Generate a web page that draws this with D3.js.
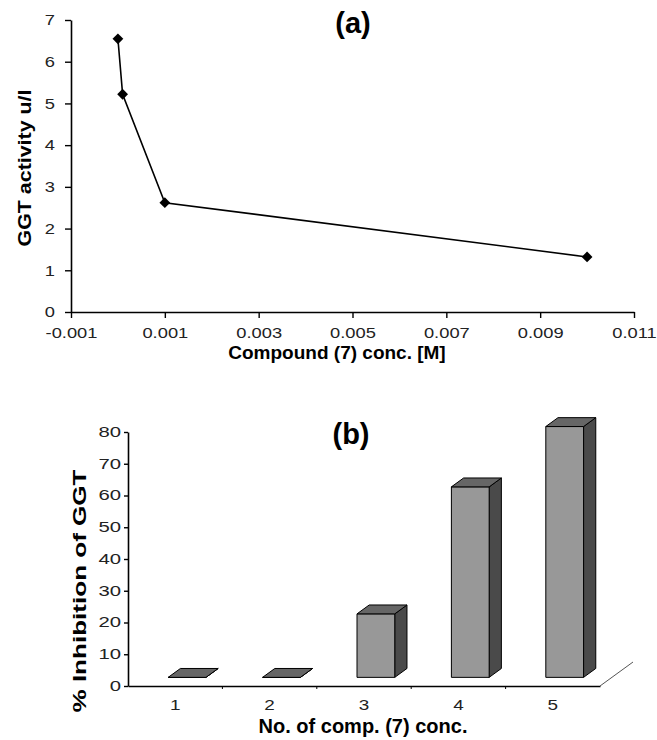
<!DOCTYPE html>
<html>
<head>
<meta charset="utf-8">
<script src="https://cdn.jsdelivr.net/npm/d3@7"></script>
<style>
body { margin:0; background:#fff; }
svg { display:block; font-family:"Liberation Sans", Arial, sans-serif; }
.tick text { fill:#222; }
</style>
</head>
<body>
<svg width="657" height="740"></svg>
<script>
// (a) GGT activity vs compound (7) concentration
var concM = [0, 0.0001, 0.001, 0.01]
var ggtActivity = [6.55, 5.22, 2.62, 1.32]
var xTicksA = [-0.001, 0.001, 0.003, 0.005, 0.007, 0.009, 0.011]
var yTicksA = [0, 1, 2, 3, 4, 5, 6, 7]

// (b) % inhibition per concentration level
var concLevels = ["1", "2", "3", "4", "5"]
var inhibition = [0, 0, 20, 60, 79]
var yTicksB = [0, 10, 20, 30, 40, 50, 60, 70, 80]

var svg = d3.select("svg")

// stretch text horizontally like the scanned figure
var stretch = function(sel, k)
{
    sel.each(function()
    {
        var w = this.getComputedTextLength()
        d3.select(this).attr("textLength", w * k).attr("lengthAdjust", "spacingAndGlyphs")
    })
}

var styleAxis = function(g)
{
    g.select(".domain").attr("stroke", "#000").attr("stroke-width", 1.6)
    g.selectAll(".tick line").attr("stroke", "#000").attr("stroke-width", 1.4)
}

// plain hyphen minus like the original
var fmtA = function(d) { return d3.format(".3f")(d).replace("\u2212", "-") }

// ---------- chart (a) ----------
var xA = d3.scaleLinear().domain([-0.001, 0.011]).range([71, 634])
var yA = d3.scaleLinear().domain([0, 7]).range([312, 20])

var gxA = svg.append("g")
    .attr("transform", "translate(0," + yA(0) + ")")
    .call(d3.axisBottom(xA).tickValues(xTicksA).tickSize(6).tickPadding(9).tickSizeOuter(0)
        .tickFormat(fmtA))
gxA.selectAll("text").attr("font-size", 15).call(stretch, 1.22)
styleAxis(gxA)

var gyA = svg.append("g")
    .attr("transform", "translate(" + xA(-0.001) + ",0)")
    .call(d3.axisLeft(yA).tickValues(yTicksA).tickSize(6).tickPadding(10).tickSizeOuter(0)
        .tickFormat(d3.format("d")))
gyA.selectAll("text").attr("font-size", 15).call(stretch, 1.22)
styleAxis(gyA)

var lineA = d3.line()
    .x(function(d, i) { return xA(concM[i]) })
    .y(function(d) { return yA(d) })

svg.append("path")
    .datum(ggtActivity)
    .attr("d", lineA)
    .attr("fill", "none")
    .attr("stroke", "#000")
    .attr("stroke-width", 1.6)

svg.selectAll(".markerA")
    .data(ggtActivity)
    .enter()
    .append("path")
    .attr("class", "markerA")
    .attr("d", d3.symbol().type(d3.symbolSquare).size(58))
    .attr("transform", function(d, i) { return "translate(" + xA(concM[i]) + "," + yA(d) + ") rotate(45)" })
    .attr("fill", "#000")

svg.append("text")
    .attr("x", 353).attr("y", 33)
    .attr("text-anchor", "middle")
    .attr("font-weight", "bold").attr("font-size", 29)
    .text("(a)")

svg.append("text")
    .attr("x", 337).attr("y", 359)
    .attr("text-anchor", "middle")
    .attr("font-weight", "bold").attr("font-size", 19)
    .text("Compound (7) conc. [M]")

svg.append("text")
    .attr("transform", "translate(25,168) rotate(-90)")
    .attr("text-anchor", "middle")
    .attr("dominant-baseline", "central")
    .attr("font-weight", "bold").attr("font-size", 18)
    .attr("textLength", 157).attr("lengthAdjust", "spacingAndGlyphs")
    .text("GGT activity u/l")

// ---------- chart (b) ----------
var xB = d3.scaleBand().domain(concLevels).range([128, 600]).padding(0)
var yB = d3.scaleLinear().domain([0, 80]).range([686, 432])
var depth = {dx: 33, dy: -24}   // floor depth in 3d view
var barFront = 0.36, barBack = 0.73, barWidth = 0.4

var gxB = svg.append("g")
    .attr("transform", "translate(0," + yB(0) + ")")
    .call(d3.axisBottom(xB).tickSize(0).tickPadding(14).tickSizeOuter(0))
gxB.selectAll("text").attr("font-size", 14).call(stretch, 1.35)
styleAxis(gxB)

// small ticks between categories
gxB.selectAll(".sep")
    .data(concLevels.slice(1))
    .enter()
    .append("line")
    .attr("class", "sep")
    .attr("x1", function(d) { return xB(d) })
    .attr("x2", function(d) { return xB(d) })
    .attr("y1", 0).attr("y2", 3)
    .attr("stroke", "#000")

// floor side edge
svg.append("line")
    .attr("x1", xB.range()[1]).attr("y1", yB(0))
    .attr("x2", xB.range()[1] + depth.dx).attr("y2", yB(0) + depth.dy)
    .attr("stroke", "#555").attr("stroke-width", 1)

var gyB = svg.append("g")
    .attr("transform", "translate(" + xB.range()[0] + ",0)")
    .call(d3.axisLeft(yB).tickValues(yTicksB).tickSize(4).tickPadding(3).tickSizeOuter(0))
gyB.selectAll("text").attr("font-size", 14).call(stretch, 1.45)
styleAxis(gyB)

var bars = svg.selectAll(".bar")
    .data(inhibition)
    .enter()
    .append("g")
    .attr("class", "bar")

var fx = depth.dx * barFront, fy = depth.dy * barFront
var bx = depth.dx * (barBack - barFront), by = depth.dy * (barBack - barFront)

var geo = function(d, i)
{
    var w = xB.bandwidth() * barWidth
    var x0 = xB(concLevels[i]) + (xB.bandwidth() - w) / 2 + fx
    var y0 = yB(0) + fy
    var y1 = yB(d) + fy
    return {x0: x0, x1: x0 + w, y0: y0, y1: y1}
}

// side face
bars.append("path")
    .attr("d", function(d, i)
    {
        var g = geo(d, i)
        return "M" + g.x1 + "," + g.y0 + "L" + (g.x1 + bx) + "," + (g.y0 + by) +
            "L" + (g.x1 + bx) + "," + (g.y1 + by) + "L" + g.x1 + "," + g.y1 + "Z"
    })
    .attr("fill", "#4a4a4a").attr("stroke", "#000").attr("stroke-width", 1)

// front face
bars.append("path")
    .attr("d", function(d, i)
    {
        var g = geo(d, i)
        return "M" + g.x0 + "," + g.y0 + "L" + g.x1 + "," + g.y0 +
            "L" + g.x1 + "," + g.y1 + "L" + g.x0 + "," + g.y1 + "Z"
    })
    .attr("fill", "#989898").attr("stroke", "#000").attr("stroke-width", 1)

// top face
bars.append("path")
    .attr("d", function(d, i)
    {
        var g = geo(d, i)
        return "M" + g.x0 + "," + g.y1 + "L" + g.x1 + "," + g.y1 +
            "L" + (g.x1 + bx) + "," + (g.y1 + by) + "L" + (g.x0 + bx) + "," + (g.y1 + by) + "Z"
    })
    .attr("fill", "#666").attr("stroke", "#000").attr("stroke-width", 1)

svg.append("text")
    .attr("x", 351).attr("y", 444)
    .attr("text-anchor", "middle")
    .attr("font-weight", "bold").attr("font-size", 29)
    .text("(b)")

svg.append("text")
    .attr("x", 363).attr("y", 733)
    .attr("text-anchor", "middle")
    .attr("font-weight", "bold").attr("font-size", 20)
    .text("No. of comp. (7) conc.")

svg.append("text")
    .attr("transform", "translate(80,591) rotate(-90)")
    .attr("text-anchor", "middle")
    .attr("dominant-baseline", "central")
    .attr("font-weight", "bold").attr("font-size", 18)
    .attr("textLength", 243).attr("lengthAdjust", "spacingAndGlyphs")
    .text("% Inhibition of GGT")
</script>
</body>
</html>
